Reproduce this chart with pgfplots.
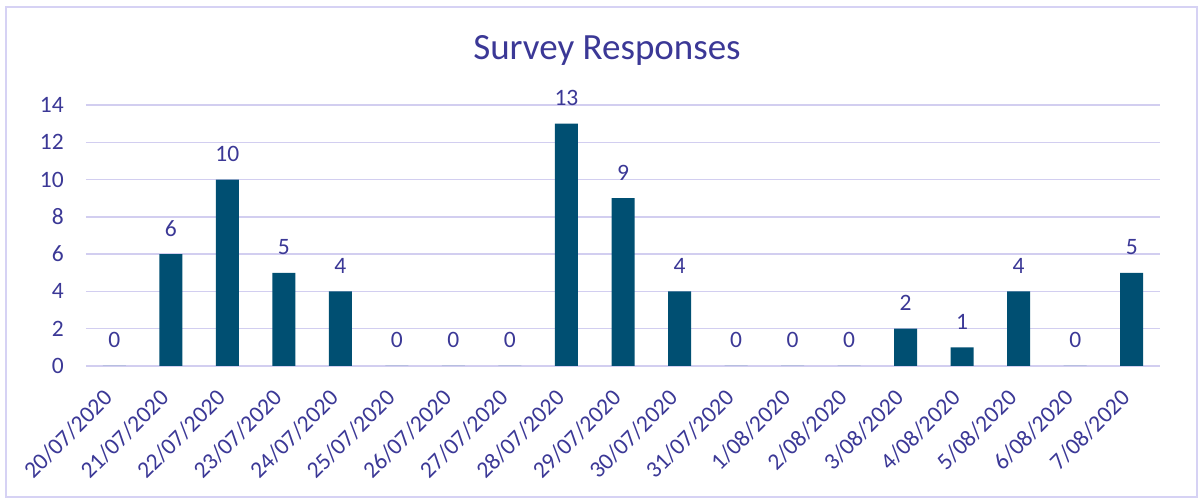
\documentclass[border=0pt]{standalone}
\usepackage{pgfplots}
\pgfplotsset{compat=1.18}
\usepackage{fontspec}
\setmainfont{Carlito}
\definecolor{txt}{RGB}{59,56,150}
\definecolor{barc}{RGB}{0,79,114}
\definecolor{grd}{RGB}{210,206,240}
\definecolor{frm}{RGB}{214,210,244}
\begin{document}
\begin{tikzpicture}
\begin{axis}[
  width=1074pt, height=261pt, scale only axis,
  xmin=-0.5, xmax=18.5, ymin=0, ymax=14,
  ytick={0,2,...,14},
  xtick={0,...,18},
  xticklabels={20/07/2020,21/07/2020,22/07/2020,23/07/2020,24/07/2020,25/07/2020,26/07/2020,27/07/2020,28/07/2020,29/07/2020,30/07/2020,31/07/2020,1/08/2020,2/08/2020,3/08/2020,4/08/2020,5/08/2020,6/08/2020,7/08/2020},
  axis line style={draw=none},
  major tick length=0pt,
  ymajorgrids,
  grid style={grd, line width=1.4pt},
  /pgf/number format/assume math mode=true,
  tick label style={txt, font=\fontsize{23.5}{23.5}\selectfont},
  yticklabel style={inner sep=0pt, xshift=-22pt},
  xticklabel style={inner sep=0pt, xshift=-6pt, yshift=-28pt, rotate=45, anchor=east},
  nodes near coords,
  every node near coord/.append style={txt, font=\fontsize{23.5}{23.5}\selectfont, anchor=base, inner sep=0pt, yshift=18pt},
]
\addplot[ybar, bar width=23pt, fill=barc, draw=none] coordinates {
(0,0) (1,6) (2,10) (3,5) (4,4) (5,0) (6,0) (7,0) (8,13) (9,9) (10,4) (11,0) (12,0) (13,0) (14,2) (15,1) (16,4) (17,0) (18,5)};
\end{axis}
\node[txt, font=\fontsize{37}{37}\selectfont] at ([shift={(521pt,316pt)}]current axis.south west) {Survey Responses};
\draw[frm, line width=1.6pt] ([shift={(-80pt,-131pt)}]current axis.south west) rectangle ++(1191pt,490pt);
\pgfresetboundingbox
\path ([shift={(-86pt,-134pt)}]current axis.south west) rectangle ++(1203pt,500pt);
\end{tikzpicture}
\end{document}
